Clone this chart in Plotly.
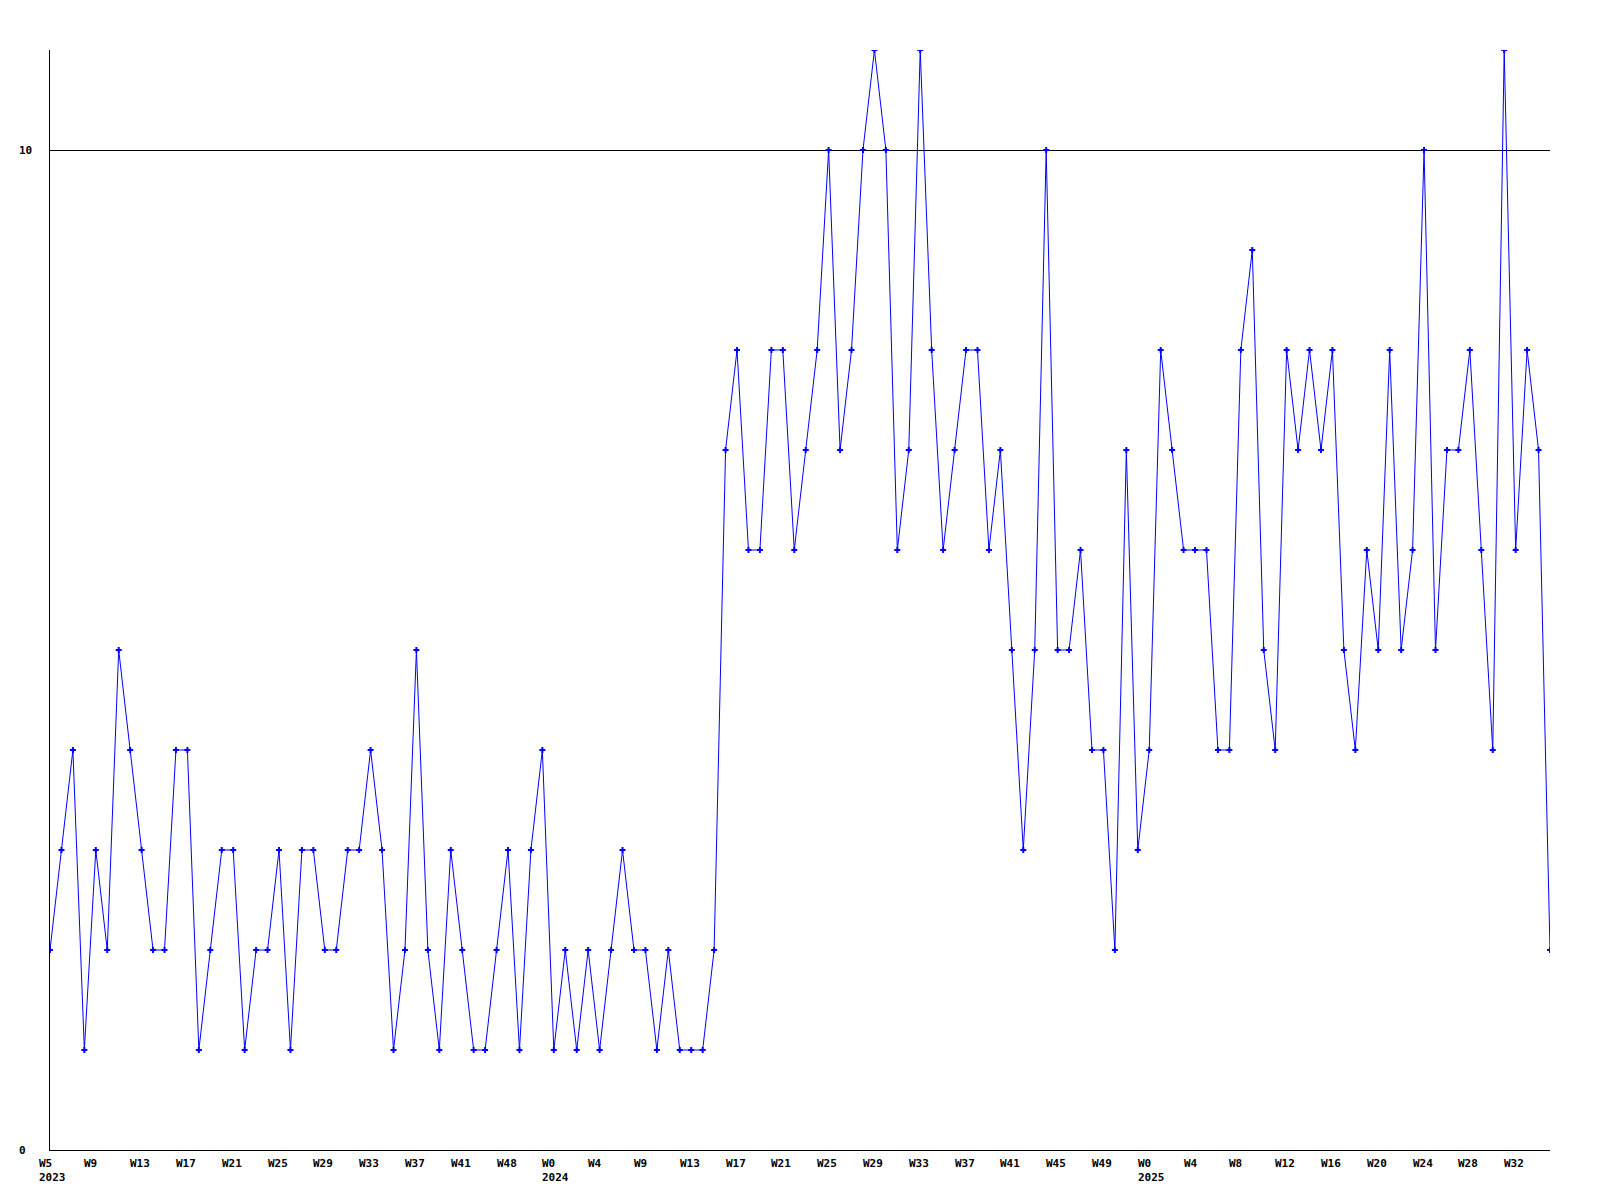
import plotly.graph_objects as go

# weekly counts (one value per week, 132 weeks)
values = [2, 3, 4, 1, 3, 2, 5, 4, 3, 2, 2, 4, 4, 1, 2, 3, 3, 1, 2, 2,
          3, 1, 3, 3, 2, 2, 3, 3, 4, 3, 1, 2, 5, 2, 1, 3, 2, 1, 1, 2,
          3, 1, 3, 4, 1, 2, 1, 2, 1, 2, 3, 2, 2, 1, 2, 1, 1, 1, 2, 7,
          8, 6, 6, 8, 8, 6, 7, 8, 10, 7, 8, 10, 11, 10, 6, 7, 11, 8, 6, 7,
          8, 8, 6, 7, 5, 3, 5, 10, 5, 5, 6, 4, 4, 2, 7, 3, 4, 8, 7, 6,
          6, 6, 4, 4, 8, 9, 5, 4, 8, 7, 8, 7, 8, 5, 4, 6, 5, 8, 5, 6,
          10, 5, 7, 7, 8, 6, 4, 11, 6, 8, 7, 2]

# x tick labels (every 4th week)
week_labels = ["W5", "W9", "W13", "W17", "W21", "W25", "W29", "W33", "W37", "W41",
               "W48", "W0", "W4", "W9", "W13", "W17", "W21", "W25", "W29", "W33",
               "W37", "W41", "W45", "W49", "W0", "W4", "W8", "W12", "W16", "W20",
               "W24", "W28", "W32"]
year_labels = {0: "2023", 11: "2024", 24: "2025"}
tick_step = 4

y_tick_vals = [0, 10]
y_max = 11

x = list(range(len(values)))

FONT = "DejaVu Sans Mono"
FS = 11

fig = go.Figure()
fig.add_trace(go.Scatter(
    x=x, y=values, mode="lines+markers",
    line=dict(color="#0000ff", width=1),
    marker=dict(symbol="cross", size=5, color="#0000ff", line=dict(width=0)),
    hoverinfo="skip", showlegend=False,
))

annotations = []
for i, wk in enumerate(week_labels):
    annotations.append(dict(
        x=i * tick_step, xref="x", y=0, yref="paper",
        text="<b>" + wk + "</b>", showarrow=False,
        xanchor="left", yanchor="middle", xshift=-13.5, yshift=-13,
        font=dict(family=FONT, size=FS, color="black"),
    ))
    if i in year_labels:
        annotations.append(dict(
            x=i * tick_step, xref="x", y=0, yref="paper",
            text="<b>" + year_labels[i] + "</b>", showarrow=False,
            xanchor="left", yanchor="middle", xshift=-13.5, yshift=-27,
            font=dict(family=FONT, size=FS, color="black"),
        ))
for v in y_tick_vals:
    annotations.append(dict(
        x=0, xref="paper", y=v, yref="y",
        text="<b>" + str(v) + "</b>", showarrow=False,
        xanchor="left", yanchor="middle", xshift=-33,
        font=dict(family=FONT, size=FS, color="black"),
    ))

fig.update_layout(
    width=1600, height=1200,
    margin=dict(l=42, r=58, t=42, b=58),
    paper_bgcolor="white", plot_bgcolor="white",
    xaxis=dict(range=[0, len(values) - 1], showgrid=False, zeroline=False,
               showticklabels=False, ticks="", showline=True,
               linecolor="black", linewidth=1),
    yaxis=dict(range=[0, y_max], tickvals=y_tick_vals, showticklabels=False,
               showgrid=True, gridcolor="black", gridwidth=1, zeroline=False,
               ticks="", showline=True, linecolor="black", linewidth=1),
    annotations=annotations,
)

fig.write_html("out.html")
